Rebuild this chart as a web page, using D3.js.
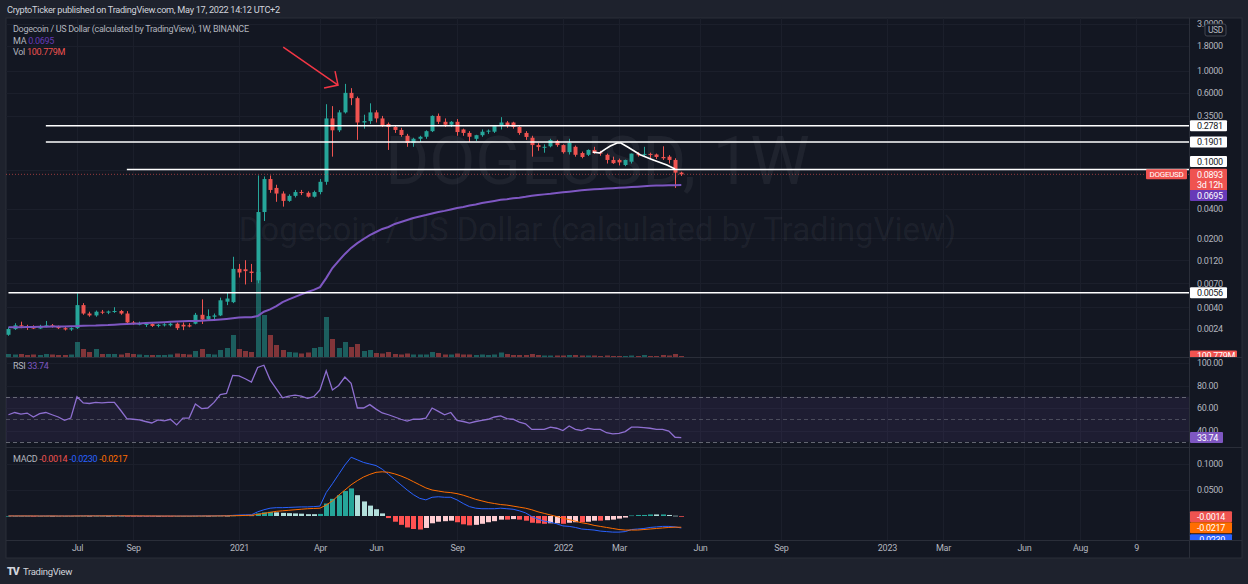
<!DOCTYPE html>
<html>
<head>
<meta charset="utf-8">
<script src="https://cdn.jsdelivr.net/npm/d3@7"></script>
<style>
  html, body { margin: 0; background: #1e222d; }
  svg text { font-family: Roboto, "Noto Sans", sans-serif; letter-spacing: -0.3px; }
</style>
</head>
<body>
<svg id="chart" width="1248" height="584"></svg>
<script>
// weekly DOGEUSD bars, first bar = week of 2020-04-20
const opens = [
  0.00210, 0.00240, 0.00262, 0.00255, 0.00250, 0.00243, 0.00258, 0.00262, 0.00252, 0.00245,
  0.00238, 0.00245, 0.00420, 0.00345, 0.00330, 0.00360, 0.00352, 0.00362, 0.00366, 0.00345,
  0.00280, 0.00270, 0.00265, 0.00270, 0.00258, 0.00265, 0.00262, 0.00272, 0.00265, 0.00262,
  0.00272, 0.00335, 0.00300, 0.00320, 0.00330, 0.00455, 0.00450, 0.00980, 0.00970, 0.00920,
  0.0075, 0.0370, 0.0800, 0.0650, 0.0570, 0.0480, 0.0540, 0.0590, 0.0580, 0.0530,
  0.0590, 0.0750, 0.3300, 0.2500, 0.3800, 0.6000, 0.5300, 0.3000, 0.3100, 0.3800,
  0.3300, 0.2900, 0.2700, 0.2520, 0.2200, 0.1860, 0.2050, 0.2150, 0.2450, 0.3500,
  0.3050, 0.2850, 0.3050, 0.2550, 0.2350, 0.2050, 0.2230, 0.2420, 0.2420, 0.2760,
  0.3000, 0.3000, 0.2700, 0.2350, 0.2100, 0.1770, 0.1690, 0.1720, 0.1950, 0.1770,
  0.1500, 0.1700, 0.1470, 0.1410, 0.1580, 0.1490, 0.1410, 0.1250, 0.1250, 0.1110,
  0.1200, 0.1430, 0.1410, 0.1440, 0.1420, 0.1340, 0.1350, 0.1250, 0.0930
];
const highs = [
  0.00250, 0.00275, 0.00285, 0.00265, 0.00262, 0.00265, 0.00290, 0.00270, 0.00260, 0.00255,
  0.00250, 0.00555, 0.00440, 0.00360, 0.00370, 0.00375, 0.00370, 0.00400, 0.00375, 0.00365,
  0.00290, 0.00285, 0.00280, 0.00275, 0.00270, 0.00275, 0.00280, 0.00280, 0.00280, 0.00275,
  0.00350, 0.00480, 0.00380, 0.00345, 0.00500, 0.00560, 0.01300, 0.01100, 0.01200, 0.01100,
  0.0870, 0.0850, 0.0870, 0.0700, 0.0600, 0.0560, 0.0620, 0.0620, 0.0600, 0.0610,
  0.0800, 0.4600, 0.4400, 0.4000, 0.7400, 0.6700, 0.5500, 0.3600, 0.4700, 0.4000,
  0.3500, 0.3000, 0.2800, 0.2650, 0.2300, 0.2100, 0.2200, 0.2500, 0.3550, 0.3700,
  0.3300, 0.3100, 0.3250, 0.2600, 0.2450, 0.2250, 0.2550, 0.2550, 0.2800, 0.3400,
  0.3100, 0.3050, 0.2750, 0.2450, 0.2200, 0.1850, 0.1800, 0.2050, 0.2000, 0.1800,
  0.2050, 0.1750, 0.1520, 0.1600, 0.1700, 0.1550, 0.1450, 0.1350, 0.1290, 0.1260,
  0.1450, 0.1500, 0.1700, 0.1480, 0.1450, 0.1720, 0.1400, 0.1300, 0.0950
];
const lows = [
  0.00205, 0.00235, 0.00245, 0.00235, 0.00240, 0.00240, 0.00250, 0.00248, 0.00240, 0.00232,
  0.00230, 0.00240, 0.00335, 0.00320, 0.00320, 0.00340, 0.00340, 0.00350, 0.00335, 0.00270,
  0.00265, 0.00262, 0.00252, 0.00252, 0.00250, 0.00255, 0.00255, 0.00235, 0.00234, 0.00250,
  0.00268, 0.00270, 0.00290, 0.00300, 0.00325, 0.00420, 0.00440, 0.00800, 0.00680, 0.00720,
  0.0070, 0.0300, 0.0580, 0.0470, 0.0420, 0.0470, 0.0520, 0.0550, 0.0520, 0.0520,
  0.0560, 0.0700, 0.1350, 0.2400, 0.3700, 0.4500, 0.2000, 0.2600, 0.2900, 0.3000,
  0.2700, 0.1580, 0.2350, 0.2150, 0.1700, 0.1700, 0.1900, 0.2050, 0.2400, 0.2900,
  0.2700, 0.2700, 0.2200, 0.2200, 0.1900, 0.1950, 0.2150, 0.2300, 0.2350, 0.2550,
  0.2650, 0.2600, 0.2250, 0.2000, 0.1350, 0.1550, 0.1480, 0.1680, 0.1700, 0.1450,
  0.1420, 0.1350, 0.1300, 0.1370, 0.1440, 0.1380, 0.1150, 0.1140, 0.1100, 0.1080,
  0.1150, 0.1350, 0.1350, 0.1300, 0.1280, 0.1250, 0.1150, 0.0650, 0.0860
];
const closes = [
  0.00240, 0.00262, 0.00255, 0.00250, 0.00243, 0.00258, 0.00262, 0.00252, 0.00245, 0.00238,
  0.00245, 0.00420, 0.00345, 0.00330, 0.00360, 0.00352, 0.00362, 0.00366, 0.00345, 0.00280,
  0.00270, 0.00272, 0.00270, 0.00258, 0.00265, 0.00268, 0.00272, 0.00245, 0.00255, 0.00255,
  0.00335, 0.00300, 0.00325, 0.00330, 0.00470, 0.00490, 0.00980, 0.00900, 0.00930, 0.00890,
  0.0370, 0.0800, 0.0620, 0.0570, 0.0480, 0.0540, 0.0590, 0.0580, 0.0530, 0.0590,
  0.0750, 0.3300, 0.2500, 0.3800, 0.6000, 0.5300, 0.3000, 0.3100, 0.3800, 0.3300,
  0.2830, 0.2700, 0.2520, 0.2240, 0.1860, 0.2050, 0.2150, 0.2450, 0.3500, 0.3050,
  0.2850, 0.3050, 0.2400, 0.2350, 0.2150, 0.2230, 0.2420, 0.2480, 0.2760, 0.3000,
  0.2780, 0.2700, 0.2350, 0.2140, 0.1770, 0.1690, 0.1700, 0.1990, 0.1770, 0.1500,
  0.1860, 0.1410, 0.1340, 0.1580, 0.1470, 0.1450, 0.1250, 0.1160, 0.1180, 0.1250,
  0.1450, 0.1410, 0.1440, 0.1420, 0.1340, 0.1300, 0.1250, 0.0930, 0.0893
];
// volume, millions
const volumes = [
  300, 250, 300, 200, 250, 200, 300, 250, 200, 200,
  250, 1500, 800, 500, 800, 300, 300, 300, 250, 400,
  300, 250, 200, 200, 200, 200, 250, 350, 300, 250,
  600, 800, 300, 250, 700, 900, 2200, 800, 600, 500,
  8500, 4200, 2200, 1200, 700, 500, 450, 350, 450, 900,
  1000, 4000, 1800, 900, 1500, 1000, 1300, 600, 700, 400,
  350, 500, 300, 250, 350, 250, 250, 250, 500, 400,
  250, 250, 350, 250, 250, 200, 250, 200, 250, 450,
  300, 200, 200, 200, 300, 200, 150, 150, 150, 150,
  200, 200, 150, 150, 150, 100, 150, 100, 100, 100,
  150, 100, 200, 100, 100, 200, 150, 300, 100.779
];
const maValues = [
  0.00250, 0.00251, 0.00251, 0.00252, 0.00252, 0.00253, 0.00253, 0.00254, 0.00255, 0.00255, 0.00256,
  0.00257, 0.00259, 0.00260, 0.00261, 0.00263, 0.00264, 0.00266, 0.00268, 0.00270, 0.00272,
  0.00274, 0.00276, 0.00278, 0.00280, 0.00282, 0.00284, 0.00286, 0.00288, 0.00289, 0.00290,
  0.00292, 0.00294, 0.00297, 0.00300, 0.00304, 0.00309, 0.00314, 0.00316, 0.00317, 0.00325,
  0.0036, 0.0038, 0.0041, 0.0045, 0.0048, 0.0051, 0.0054, 0.0057, 0.0060, 0.0064,
  0.0079, 0.0100, 0.0118, 0.0139, 0.0160, 0.0179, 0.0197, 0.0216, 0.0232, 0.0249,
  0.0261, 0.0280, 0.0293, 0.0307, 0.0322, 0.0334, 0.0345, 0.0358, 0.0371, 0.0380,
  0.0393, 0.0407, 0.0417, 0.0432, 0.0442, 0.0458, 0.0469, 0.0480, 0.0492, 0.0500,
  0.0510, 0.0518, 0.0528, 0.0541, 0.0550, 0.0559, 0.0567, 0.0577, 0.0586, 0.0595,
  0.0605, 0.0615, 0.0622, 0.0629, 0.0634, 0.0640, 0.0646, 0.0652, 0.0657, 0.0664,
  0.0670, 0.0676, 0.0682, 0.0686, 0.0689, 0.0692, 0.0694, 0.0695
];
const rsiValues = [
  54, 56, 54.5, 55.5, 52, 55, 56, 54, 52, 49, 51,
  70, 64.5, 64, 65, 64.5, 65, 65, 58, 50.5, 50,
  49.5, 48, 46.7, 49.5, 48.5, 50, 45, 51, 51, 63.6,
  59.5, 60, 65, 72, 73, 89, 88.5, 86, 83, 96,
  98, 85, 77, 69, 70.5, 71.5, 70.5, 68.5, 70, 76,
  93, 76, 80, 87.5, 82, 60, 60, 63, 59, 55.6,
  54, 52, 50, 48.4, 50,
  50, 51, 60, 57, 54, 56, 49, 48, 46.5, 48,
  49, 50, 52, 53, 50.5, 50, 47.5, 46, 41, 41,
  41, 43, 42, 40, 44, 41, 40, 42, 41, 41,
  38, 37, 37.5, 39, 43, 43, 42.5, 42, 41, 41,
  39.5, 34, 33.74
];
const macdValues = [
  0.0001, 0.0001, 0.0001, 0.0001, 0.0000, 0.0000, 0.0001, 0.0001, 0.0000, 0.0000, 0.0000,
  0.0002, 0.0003, 0.0003, 0.0003, 0.0003, 0.0003, 0.0003, 0.0003, 0.0002, 0.0001,
  0.0000, -0.0001, -0.0001, -0.0001, -0.0001, -0.0001, -0.0001, -0.0001, -0.0001, 0.0001,
  0.0002, 0.0002, 0.0003, 0.0005, 0.0006, 0.0012, 0.0018, 0.0022, 0.0024, 0.0080,
  0.0120, 0.0150, 0.0160, 0.0160, 0.0165, 0.0170, 0.0175, 0.0175, 0.0180, 0.0190,
  0.0450, 0.0620, 0.0800, 0.0980, 0.1130, 0.1080, 0.1030, 0.1000, 0.0970, 0.0900,
  0.0800, 0.0700, 0.0600, 0.0500, 0.0410, 0.0340, 0.0310, 0.0360, 0.0370, 0.0360,
  0.0360, 0.0310, 0.0240, 0.0180, 0.0150, 0.0140, 0.0140, 0.0140, 0.0150, 0.0140,
  0.0130, 0.0100, 0.0060, -0.0010, -0.0060, -0.0100, -0.0120, -0.0150, -0.0190, -0.0200,
  -0.0220, -0.0250, -0.0260, -0.0270, -0.0290, -0.0300, -0.0310, -0.0310, -0.0300, -0.0260,
  -0.0250, -0.0240, -0.0220, -0.0210, -0.0200, -0.0200, -0.0210, -0.02304
];
const signalValues = [
  0.0001, 0.0001, 0.0001, 0.0001, 0.0001, 0.0000, 0.0000, 0.0001, 0.0000, 0.0000, 0.0000,
  0.0001, 0.0001, 0.0002, 0.0002, 0.0002, 0.0003, 0.0003, 0.0003, 0.0003, 0.0002,
  0.0002, 0.0001, 0.0001, 0.0000, 0.0000, 0.0000, -0.0001, -0.0001, -0.0001, -0.0001,
  0.0000, 0.0001, 0.0001, 0.0002, 0.0003, 0.0005, 0.0008, 0.0011, 0.0014, 0.0030,
  0.0050, 0.0070, 0.0090, 0.0100, 0.0110, 0.0120, 0.0130, 0.0140, 0.0145, 0.0150,
  0.0210, 0.0290, 0.0400, 0.0500, 0.0600, 0.0680, 0.0750, 0.0800, 0.0840, 0.0850,
  0.0840, 0.0810, 0.0770, 0.0720, 0.0660, 0.0600, 0.0540, 0.0500, 0.0480, 0.0460,
  0.0450, 0.0430, 0.0400, 0.0360, 0.0320, 0.0290, 0.0260, 0.0240, 0.0220, 0.0210,
  0.0190, 0.0170, 0.0150, 0.0120, 0.0080, 0.0050, 0.0020, -0.0010, -0.0040, -0.0070,
  -0.0100, -0.0130, -0.0150, -0.0180, -0.0200, -0.0220, -0.0240, -0.0260, -0.0270, -0.0270,
  -0.0270, -0.0260, -0.0250, -0.0240, -0.0230, -0.0220, -0.0215, -0.02166
];

const priceTicks = [3, 1.8, 1, 0.6, 0.35, 0.1, 0.04, 0.02, 0.012, 0.007, 0.004, 0.0024];
const rsiTicks = [100, 80, 60, 40];
const macdTicks = [0.1, 0.05];
const timeTicks = ["2020-07-06", "2020-09-07", "2021-01-04", "2021-04-05", "2021-06-07", "2021-09-06",
  "2022-01-03", "2022-03-07", "2022-06-06", "2022-09-05", "2023-01-02", "2023-03-06",
  "2023-06-05", "2023-08-07", "2023-10-09"];
const timeLabels = ["Jul", "Sep", "2021", "Apr", "Jun", "Sep", "2022", "Mar", "Jun", "Sep",
  "2023", "Mar", "Jun", "Aug", "9"];

// user drawings: horizontal levels (price, first week index), arrow and path (week index, price)
const levels = [[0.2781, 6], [0.1901, 6], [0.1, 19], [0.0056, 0]];
const arrowPoints = [[44.1, 1.75], [52.9, 0.72]];
const pathPoints = [[93.8, 0.150], [94.9, 0.147], [95.8, 0.161], [96.6, 0.173], [97.7, 0.186],
  [98.3, 0.186], [99.4, 0.169], [101.4, 0.141], [103.5, 0.125], [105.7, 0.111], [107, 0.101]];

const UP = "#26a69a";
const DOWN = "#ef5350";
const AXIS_TEXT = "#b2b5be";
const PANE_BG = "#131722";
const GRID = "#1b1f2b";
const LINE = "#2a2e39";

const DAY = 864e5;
const firstWeek = Date.UTC(2020, 3, 20);
const weekDate = (i) => new Date(firstWeek + i * 7 * DAY);

const bars = opens.map((open, i) => ({
  date: weekDate(i),
  open, high: highs[i], low: lows[i], close: closes[i],
  volume: volumes[i], ma: maValues[i], rsi: rsiValues[i],
  macd: macdValues[i], signal: signalValues[i], hist: macdValues[i] - signalValues[i],
}));

const left = 6, plotRight = 1189, right = 1242;
const mainTop = 18, mainBottom = 357, rsiBottom = 447, macdBottom = 540, axisBottom = 558;

const x = d3.scaleUtc()
  .domain([new Date(Date.UTC(2020, 6, 6)), new Date(Date.UTC(2023, 7, 7))])
  .range([77, 1080]);
const yPrice = d3.scaleLog().domain([0.001, 10]).range([366.5, -27.5]);
const yVol = d3.scaleLinear().domain([0, 9000]).range([mainBottom, mainBottom - 90]);
const yRsi = d3.scaleLinear().domain([0, 100]).range([475.5, 363]);
const yMacd = d3.scaleLinear().domain([0, 0.1]).range([516, 464]);

const svg = d3.select("#chart");
svg.append("rect").attr("width", 1248).attr("height", 584).attr("fill", "#1e222d");
svg.append("rect")
  .attr("x", left).attr("y", mainTop).attr("width", right - left).attr("height", axisBottom - mainTop)
  .attr("fill", PANE_BG).attr("stroke", LINE);

const defs = svg.append("defs");
[["clip-main", mainTop, mainBottom], ["clip-rsi", mainBottom, rsiBottom], ["clip-macd", rsiBottom, macdBottom]]
  .forEach(([id, top, bottom]) => {
    defs.append("clipPath").attr("id", id).append("rect")
      .attr("x", left).attr("y", top).attr("width", plotRight - left).attr("height", bottom - top);
  });

// grid
const grid = svg.append("g");
grid.selectAll("line.v").data(timeTicks).join("line")
  .attr("x1", (d) => Math.round(x(new Date(d))) + 0.5).attr("x2", (d) => Math.round(x(new Date(d))) + 0.5)
  .attr("y1", mainTop).attr("y2", macdBottom).attr("stroke", GRID);
grid.selectAll("line.p").data(priceTicks).join("line")
  .attr("x1", left).attr("x2", plotRight)
  .attr("y1", (d) => Math.round(yPrice(d)) + 0.5).attr("y2", (d) => Math.round(yPrice(d)) + 0.5)
  .attr("stroke", GRID);
grid.selectAll("line.r").data(rsiTicks).join("line")
  .attr("x1", left).attr("x2", plotRight)
  .attr("y1", (d) => Math.round(yRsi(d)) + 0.5).attr("y2", (d) => Math.round(yRsi(d)) + 0.5)
  .attr("stroke", GRID);
grid.selectAll("line.m").data(macdTicks).join("line")
  .attr("x1", left).attr("x2", plotRight)
  .attr("y1", (d) => Math.round(yMacd(d)) + 0.5).attr("y2", (d) => Math.round(yMacd(d)) + 0.5)
  .attr("stroke", GRID);

// watermark
const midX = (left + plotRight) / 2;
svg.append("text").attr("x", midX).attr("y", 184).attr("text-anchor", "middle")
  .attr("font-size", 67).attr("fill", "rgba(178,181,190,0.08)").style("letter-spacing", "0px")
  .text("DOGEUSD, 1W");
svg.append("text").attr("x", midX).attr("y", 241).attr("text-anchor", "middle")
  .attr("font-size", 33).attr("fill", "rgba(178,181,190,0.08)").style("letter-spacing", "0px")
  .text("Dogecoin / US Dollar (calculated by TradingView)");

// main pane
const main = svg.append("g").attr("clip-path", "url(#clip-main)");
const candleW = 4;
const cx = (d) => Math.round(x(d.date));

main.selectAll("rect.vol").data(bars).join("rect")
  .attr("x", (d) => cx(d) - 2).attr("width", 5)
  .attr("y", (d) => yVol(d.volume)).attr("height", (d) => mainBottom - yVol(d.volume))
  .attr("fill", (d) => (d.close >= d.open ? "rgba(38,166,154,0.5)" : "rgba(239,83,80,0.5)"));

main.selectAll("line.wick").data(bars).join("line")
  .attr("x1", (d) => cx(d) + 0.5).attr("x2", (d) => cx(d) + 0.5)
  .attr("y1", (d) => yPrice(d.high)).attr("y2", (d) => yPrice(d.low))
  .attr("stroke", (d) => (d.close >= d.open ? UP : DOWN));

main.selectAll("rect.body").data(bars).join("rect")
  .attr("x", (d) => cx(d) - candleW / 2 + 0.5).attr("width", candleW)
  .attr("y", (d) => yPrice(Math.max(d.open, d.close)))
  .attr("height", (d) => Math.max(1, Math.abs(yPrice(d.open) - yPrice(d.close))))
  .attr("fill", (d) => (d.close >= d.open ? UP : DOWN));

main.append("path").datum(bars)
  .attr("fill", "none").attr("stroke", "#7e57c2").attr("stroke-width", 2)
  .attr("d", d3.line().x((d) => x(d.date)).y((d) => yPrice(d.ma)));

// current price line
const last = bars[bars.length - 1];
main.append("line")
  .attr("x1", left).attr("x2", plotRight)
  .attr("y1", yPrice(last.close)).attr("y2", yPrice(last.close))
  .attr("stroke", DOWN).attr("stroke-opacity", 0.6).attr("stroke-dasharray", "1,2");

// drawings
main.selectAll("line.level").data(levels).join("line")
  .attr("x1", (d) => x(weekDate(d[1]))).attr("x2", plotRight)
  .attr("y1", (d) => yPrice(d[0])).attr("y2", (d) => yPrice(d[0]))
  .attr("stroke", "#ffffff").attr("stroke-width", 1.6);

main.append("path").datum(pathPoints)
  .attr("fill", "none").attr("stroke", "#ffffff").attr("stroke-width", 1.6)
  .attr("d", d3.line().x((d) => x(weekDate(d[0]))).y((d) => yPrice(d[1])));

const [a0, a1] = arrowPoints.map((p) => [x(weekDate(p[0])), yPrice(p[1])]);
main.append("path")
  .attr("fill", "none").attr("stroke", "#f23645").attr("stroke-width", 1.5)
  .attr("d", `M${a0[0]},${a0[1]}L${a1[0]},${a1[1]}M${a1[0] - 14},${a1[1] + 3}L${a1[0]},${a1[1]}L${a1[0] - 3},${a1[1] - 14}`);

// RSI pane
const rsiG = svg.append("g").attr("clip-path", "url(#clip-rsi)");
rsiG.append("rect").attr("x", left).attr("width", plotRight - left)
  .attr("y", yRsi(70)).attr("height", yRsi(30) - yRsi(70)).attr("fill", "rgba(126,87,194,0.1)");
rsiG.selectAll("line.band").data([70, 50, 30]).join("line")
  .attr("x1", left).attr("x2", plotRight)
  .attr("y1", (d) => Math.round(yRsi(d)) + 0.5).attr("y2", (d) => Math.round(yRsi(d)) + 0.5)
  .attr("stroke", "#787b86").attr("stroke-opacity", (d) => (d === 50 ? 0.5 : 0.8))
  .attr("stroke-dasharray", "4,3");
rsiG.append("path").datum(bars)
  .attr("fill", "none").attr("stroke", "#8e6fd0").attr("stroke-width", 1.3)
  .attr("d", d3.line().x((d) => x(d.date)).y((d) => yRsi(d.rsi)));

// MACD pane
const macdG = svg.append("g").attr("clip-path", "url(#clip-macd)");
macdG.selectAll("rect.hist").data(bars).join("rect")
  .attr("x", (d) => cx(d) - 2).attr("width", 5)
  .attr("y", (d) => Math.min(yMacd(d.hist), yMacd(0)))
  .attr("height", (d) => Math.max(0.6, Math.abs(yMacd(d.hist) - yMacd(0))))
  .attr("fill", (d, i) => {
    const prev = i > 0 ? bars[i - 1].hist : d.hist;
    if (d.hist >= 0) return d.hist >= prev ? "#26a69a" : "#b2dfdb";
    return d.hist <= prev ? "#ff5252" : "#ffcdd2";
  });
macdG.append("path").datum(bars)
  .attr("fill", "none").attr("stroke", "#2962ff").attr("stroke-width", 1)
  .attr("d", d3.line().x((d) => x(d.date)).y((d) => yMacd(d.macd)));
macdG.append("path").datum(bars)
  .attr("fill", "none").attr("stroke", "#ff6d00").attr("stroke-width", 1)
  .attr("d", d3.line().x((d) => x(d.date)).y((d) => yMacd(d.signal)));

// separators
const sep = svg.append("g").attr("stroke", LINE);
[mainBottom, rsiBottom, macdBottom].forEach((y) => {
  sep.append("line").attr("x1", left).attr("x2", right).attr("y1", y + 0.5).attr("y2", y + 0.5);
});
sep.append("line").attr("x1", plotRight + 0.5).attr("x2", plotRight + 0.5).attr("y1", mainTop).attr("y2", axisBottom);

// axes (the 0.1 level carries its own label box, so its plain tick label is left out)
function styleAxis(g) {
  g.select(".domain").remove();
  g.selectAll("text").attr("fill", AXIS_TEXT).attr("font-size", 9);
}
const levelPrices = levels.map((d) => d[0]);
svg.append("g").attr("transform", `translate(${plotRight},0)`)
  .call(d3.axisRight(yPrice).tickValues(priceTicks.filter((p) => !levelPrices.includes(p)))
    .tickSize(0).tickPadding(8).tickFormat((d) => d.toFixed(4)))
  .call(styleAxis);
svg.append("g").attr("transform", `translate(${plotRight},0)`)
  .call(d3.axisRight(yRsi).tickValues(rsiTicks).tickSize(0).tickPadding(8).tickFormat((d) => d.toFixed(2)))
  .call(styleAxis);
svg.append("g").attr("transform", `translate(${plotRight},0)`)
  .call(d3.axisRight(yMacd).tickValues(macdTicks).tickSize(0).tickPadding(8).tickFormat((d) => d.toFixed(4)))
  .call(styleAxis);
svg.append("g").attr("transform", `translate(0,${macdBottom})`)
  .call(d3.axisBottom(x).tickValues(timeTicks.map((d) => new Date(d))).tickSize(0).tickPadding(5)
    .tickFormat((d, i) => timeLabels[i]))
  .call(styleAxis);

// USD badge
svg.append("rect").attr("x", 1205).attr("y", 24).attr("width", 21).attr("height", 12)
  .attr("fill", PANE_BG).attr("stroke", "#434651").attr("rx", 2);
svg.append("text").attr("x", 1215.5).attr("y", 33).attr("text-anchor", "middle")
  .attr("font-size", 8.5).attr("fill", AXIS_TEXT).text("USD");

// axis value boxes
function valueBox(yc, lines, bg, fg, width, clip) {
  const g = svg.append("g");
  if (clip) g.attr("clip-path", clip);
  g.append("rect").attr("x", plotRight + 1).attr("y", yc - 5.5).attr("width", width)
    .attr("height", 11 * lines.length).attr("fill", bg).attr("rx", 1);
  lines.forEach((t, i) => {
    g.append("text").attr("x", plotRight + 8).attr("y", yc + 3.2 + i * 10.5)
      .attr("font-size", 9).attr("fill", fg).text(t);
  });
}
levels.forEach(([p]) => {
  const nudge = p === 0.1 ? -8 : 0;
  valueBox(yPrice(p) + nudge, [p.toFixed(4)], "#ffffff", "#131722", 37);
});
valueBox(yPrice(last.close), [last.close.toFixed(4), "3d 12h"], DOWN, "#ffffff", 37);
valueBox(yPrice(last.ma) + 10.5, [last.ma.toFixed(4)], "#673ab7", "#ffffff", 37);
svg.append("rect").attr("x", 1146).attr("y", yPrice(last.close) - 5).attr("width", 41).attr("height", 10)
  .attr("fill", DOWN).attr("rx", 1);
svg.append("text").attr("x", 1166.5).attr("y", yPrice(last.close) + 3).attr("text-anchor", "middle")
  .attr("font-size", 8).attr("fill", "#ffffff").text("DOGEUSD");

defs.append("clipPath").attr("id", "clip-axis-main").append("rect")
  .attr("x", plotRight).attr("y", mainTop).attr("width", right - plotRight).attr("height", mainBottom - mainTop);
defs.append("clipPath").attr("id", "clip-axis-macd").append("rect")
  .attr("x", plotRight).attr("y", rsiBottom).attr("width", right - plotRight).attr("height", macdBottom - rsiBottom);
valueBox(yVol(last.volume), ["100.779M"], DOWN, "#ffffff", 47, "url(#clip-axis-main)");
valueBox(yRsi(last.rsi), [last.rsi.toFixed(2)], "#7e57c2", "#ffffff", 33);
valueBox(yMacd(last.hist), [last.hist.toFixed(4)], DOWN, "#ffffff", 42, "url(#clip-axis-macd)");
valueBox(yMacd(last.signal) + 0.5, [last.signal.toFixed(4)], "#ff6d00", "#ffffff", 42, "url(#clip-axis-macd)");
valueBox(yMacd(last.signal) + 12.5, [last.macd.toFixed(4)], "#2962ff", "#ffffff", 42, "url(#clip-axis-macd)");

// legends and header
function legend(y, parts) {
  const t = svg.append("text").attr("x", 13).attr("y", y).attr("font-size", 9);
  parts.forEach(([txt, color]) => t.append("tspan").attr("fill", color).text(txt + " "));
}
svg.append("text").attr("x", 7).attr("y", 12.5).attr("font-size", 9.2).attr("fill", "#d1d4dc")
  .text("CryptoTicker published on TradingView.com, May 17, 2022 14:12 UTC+2");
legend(32, [["Dogecoin / US Dollar (calculated by TradingView), 1W, BINANCE", AXIS_TEXT]]);
legend(44, [["MA", AXIS_TEXT], [last.ma.toFixed(4), "#673ab7"]]);
legend(55, [["Vol", AXIS_TEXT], ["100.779M", DOWN]]);
legend(369, [["RSI", AXIS_TEXT], [last.rsi.toFixed(2), "#7e57c2"]]);
legend(462, [["MACD", AXIS_TEXT], [last.hist.toFixed(4), DOWN], [last.macd.toFixed(4), "#2962ff"],
  [last.signal.toFixed(4), "#ff6d00"]]);

// footer logo
svg.append("text").attr("x", 7).attr("y", 575).attr("font-size", 10.5).attr("font-weight", 900)
  .style("letter-spacing", "-1px").attr("fill", "#d1d4dc").text("TV");
svg.append("text").attr("x", 23).attr("y", 575).attr("font-size", 9.5).attr("fill", "#d1d4dc").text("TradingView");
</script>
</body>
</html>
